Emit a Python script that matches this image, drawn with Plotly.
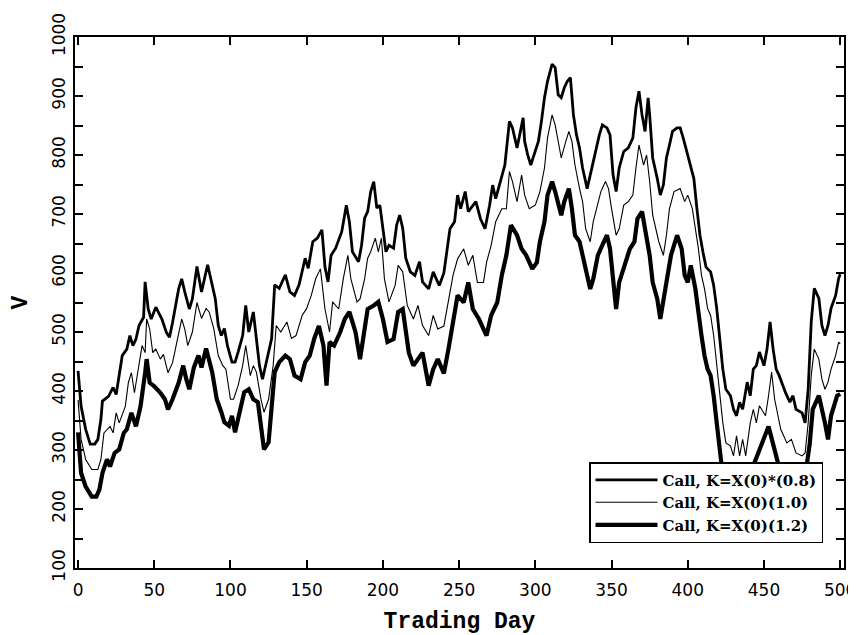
import plotly.graph_objects as go

# ---- data (trading day, value V) ----
days_08 = [0, 2, 5, 8, 11, 13, 15, 16, 20, 23, 25, 27, 29, 32, 34, 36, 38, 40, 43, 44, 46, 48, 51, 55, 58, 60, 62, 66, 68, 70,
           73, 75, 78, 81, 85, 87, 90, 92, 94, 96, 98, 101, 103, 105, 108, 110, 112, 115, 117, 119, 121, 124, 127, 129, 132,
           136, 139, 142, 145, 149, 151, 154, 157, 160, 162, 164, 166, 169, 173, 176, 178, 180, 184, 186, 188, 190, 192, 194,
           196, 198, 200, 202, 204, 207, 209, 211, 213, 215, 218, 221, 224, 226, 230, 233, 235, 237, 240, 242, 244, 247, 249,
           251, 254, 256, 259, 261, 264, 267, 270, 272, 274, 278, 280, 283, 285, 288, 290, 292, 293, 295, 297, 300, 302, 304,
           306, 308, 311, 313, 315, 317, 319, 321, 323, 325, 327, 329, 331, 334, 336, 338, 340, 342, 344, 347, 349, 351, 353,
           355, 358, 361, 364, 366, 368, 370, 372, 374, 375, 377, 380, 382, 384, 386, 388, 390, 393, 395, 397, 400, 404, 406,
           408, 410, 412, 415, 417, 419, 421, 423, 425, 428, 430, 432, 434, 436, 439, 441, 443, 445, 447, 450, 452, 454, 456,
           458, 460, 464, 467, 469, 471, 475, 477, 479, 481, 483, 486, 488, 490, 492, 494, 497, 499, 500]
v_08 = [434, 374, 335, 310, 310, 318, 352, 383, 391, 406, 394, 431, 460, 471, 494, 477, 488, 511, 525, 585, 539, 522, 542, 522,
        499, 491, 516, 573, 590, 568, 539, 556, 611, 568, 614, 591, 557, 511, 494, 506, 477, 449, 449, 466, 494, 545, 500, 534,
        489, 443, 420, 454, 489, 580, 574, 597, 568, 562, 580, 625, 608, 653, 659, 673, 610, 585, 630, 642, 670, 715, 687, 636,
        619, 647, 693, 704, 738, 755, 710, 715, 670, 636, 647, 642, 681, 698, 676, 625, 602, 596, 619, 585, 573, 602, 590, 579,
        600, 641, 675, 687, 732, 709, 738, 704, 715, 721, 692, 675, 715, 749, 726, 766, 783, 857, 846, 812, 840, 863, 823, 800,
        783, 806, 823, 857, 897, 925, 954, 948, 902, 897, 914, 925, 931, 868, 834, 812, 778, 743, 766, 789, 812, 834, 851, 846,
        834, 766, 738, 778, 806, 812, 829, 880, 908, 868, 840, 897, 868, 795, 760, 732, 749, 795, 817, 840, 846, 846, 829, 800,
        760, 709, 664, 635, 610, 602, 579, 540, 483, 437, 403, 392, 369, 358, 381, 369, 415, 392, 437, 443, 466, 443, 471, 517,
        471, 437, 426, 398, 381, 392, 369, 363, 346, 403, 517, 574, 557, 511, 494, 511, 540, 562, 591, 598]

days_10 = [0, 2, 5, 9, 13, 15, 17, 21, 23, 25, 27, 31, 33, 35, 37, 39, 42, 44, 45, 47, 49, 51, 54, 56, 59, 62, 64, 68, 70, 72,
           75, 78, 81, 84, 86, 89, 92, 95, 97, 100, 102, 105, 108, 110, 113, 115, 117, 120, 122, 125, 128, 130, 133, 137, 140,
           143, 147, 150, 153, 156, 159, 161, 162, 165, 167, 171, 174, 177, 179, 183, 185, 188, 190, 192, 195, 197, 199, 201,
           204, 208, 210, 213, 216, 220, 223, 226, 230, 233, 236, 240, 243, 246, 249, 253, 256, 259, 262, 266, 268, 271, 274,
           278, 281, 283, 285, 288, 291, 293, 296, 300, 303, 306, 308, 311, 313, 315, 317, 320, 322, 324, 326, 329, 331, 333,
           336, 338, 340, 343, 346, 348, 350, 353, 355, 358, 361, 364, 366, 368, 371, 373, 375, 377, 381, 384, 386, 388, 391,
           395, 398, 400, 403, 407, 409, 411, 413, 415, 417, 419, 421, 423, 425, 428, 430, 432, 434, 436, 438, 441, 443, 445,
           447, 451, 453, 455, 457, 459, 461, 465, 468, 471, 475, 477, 479, 481, 483, 486, 488, 490, 492, 494, 497, 499, 500]
v_10 = [385, 318, 284, 267, 267, 284, 329, 340, 329, 363, 346, 374, 414, 431, 397, 431, 477, 465, 522, 505, 465, 471, 454, 462,
        431, 448, 471, 522, 505, 477, 500, 550, 523, 540, 534, 506, 460, 443, 437, 386, 386, 409, 443, 477, 426, 443, 432, 386,
        364, 386, 443, 511, 500, 517, 489, 494, 528, 540, 562, 591, 607, 557, 539, 500, 551, 539, 590, 630, 590, 551, 556, 590,
        625, 636, 659, 636, 659, 590, 551, 579, 613, 602, 545, 522, 545, 511, 494, 528, 505, 510, 550, 596, 624, 641, 613, 630,
        584, 584, 618, 647, 687, 709, 709, 772, 755, 721, 766, 732, 709, 715, 738, 778, 829, 868, 851, 823, 795, 823, 840, 823,
        783, 743, 721, 675, 653, 687, 709, 738, 755, 743, 709, 664, 675, 715, 721, 732, 778, 817, 783, 800, 755, 698, 653, 630,
        664, 709, 738, 743, 721, 732, 709, 641, 596, 573, 540, 528, 494, 443, 392, 346, 312, 307, 290, 324, 290, 318, 290, 346,
        369, 346, 375, 358, 392, 432, 386, 358, 335, 312, 318, 295, 290, 295, 346, 426, 471, 454, 420, 403, 415, 437, 460, 483,
        480]

days_12 = [0, 2, 5, 9, 12, 14, 16, 19, 21, 24, 27, 30, 32, 35, 38, 41, 44, 45, 47, 50, 54, 57, 59, 62, 66, 69, 71, 73, 76, 79,
           81, 84, 88, 91, 94, 96, 99, 101, 103, 106, 109, 112, 115, 118, 120, 122, 125, 127, 129, 132, 136, 139, 142, 146, 149,
           152, 155, 158, 161, 163, 165, 168, 172, 175, 178, 182, 185, 187, 190, 194, 197, 200, 203, 207, 210, 213, 217, 220,
           223, 226, 230, 233, 236, 240, 243, 246, 249, 253, 256, 259, 263, 266, 268, 271, 275, 278, 281, 284, 288, 291, 294,
           298, 301, 303, 306, 308, 311, 313, 315, 317, 319, 322, 324, 326, 329, 332, 336, 338, 341, 345, 347, 349, 351, 353,
           355, 359, 362, 365, 367, 370, 372, 375, 377, 380, 382, 384, 386, 389, 393, 396, 398, 400, 402, 405, 407, 409, 411,
           413, 415, 417, 419, 421, 423, 426, 429, 432, 435, 438, 441, 444, 447, 450, 453, 456, 459, 462, 466, 470, 474, 477,
           480, 482, 486, 490, 492, 494, 498, 500]
v_12 = [330, 261, 238, 221, 221, 233, 261, 284, 272, 295, 301, 329, 335, 363, 340, 374, 431, 454, 414, 408, 397, 386, 369, 386,
        414, 443, 420, 403, 440, 460, 440, 472, 432, 386, 364, 347, 341, 358, 330, 364, 398, 403, 386, 381, 341, 301, 313, 375,
        432, 449, 460, 454, 426, 420, 449, 460, 489, 510, 477, 409, 483, 477, 500, 522, 534, 500, 454, 488, 539, 545, 551, 522,
        483, 488, 534, 539, 465, 443, 454, 465, 409, 437, 454, 430, 471, 522, 562, 550, 584, 539, 522, 505, 494, 528, 550, 596,
        630, 681, 664, 641, 630, 607, 618, 653, 687, 732, 755, 738, 721, 698, 721, 743, 709, 664, 653, 618, 573, 590, 630, 653,
        664, 641, 596, 539, 584, 618, 641, 653, 692, 704, 675, 630, 584, 556, 522, 550, 584, 630, 664, 641, 596, 584, 613, 573,
        528, 494, 460, 437, 426, 392, 346, 301, 256, 240, 225, 245, 230, 250, 265, 280, 300, 320, 340, 310, 280, 260, 250, 260,
        245, 255, 310, 369, 392, 346, 318, 358, 392, 395]

legend_names = ["Call, K=X(0)*(0.8)", "Call, K=X(0)(1.0)", "Call, K=X(0)(1.2)"]
x_ticks = [0, 50, 100, 150, 200, 250, 300, 350, 400, 450, 500]
y_ticks = [100, 200, 300, 400, 500, 600, 700, 800, 900, 1000]

fig = go.Figure()
fig.add_trace(go.Scatter(x=days_08, y=v_08, mode="lines", name=legend_names[0],
                         line=dict(color="black", width=2.8)))
fig.add_trace(go.Scatter(x=days_10, y=v_10, mode="lines", name=legend_names[1],
                         line=dict(color="black", width=1.1)))
fig.add_trace(go.Scatter(x=days_12, y=v_12, mode="lines", name=legend_names[2],
                         line=dict(color="black", width=4.2)))

tick_font = dict(family="DejaVu Sans", size=17, color="black")
title_font = dict(family="Liberation Mono", size=23, color="black", weight="bold")

fig.update_layout(
    width=856, height=635,
    margin=dict(l=67, r=20, t=29, b=75),
    paper_bgcolor="white", plot_bgcolor="white",
    showlegend=True,
    legend=dict(x=0.9727, y=0.047, xanchor="right", yanchor="bottom",
                bgcolor="white", bordercolor="black", borderwidth=1.5,
                font=dict(family="DejaVu Serif", size=15, color="black", weight="bold"),
                itemwidth=62, tracegroupgap=0),
    xaxis=dict(range=[-2, 502.5], tickvals=x_ticks, ticks="inside", ticklen=8, tickwidth=1.5,
               tickcolor="black", showline=True, linecolor="black", linewidth=2, mirror="ticks",
               showgrid=False, zeroline=False, tickfont=tick_font, ticklabelstandoff=6, automargin=False,
               title=dict(text="Trading Day", font=title_font, standoff=12)),
    yaxis=dict(range=[100, 1000], tickvals=y_ticks, ticks="inside", ticklen=8, tickwidth=1.5,
               tickcolor="black", showline=True, linecolor="black", linewidth=2, mirror="ticks",
               showgrid=False, zeroline=False, tickfont=tick_font, tickangle=-90, ticklabelstandoff=1,
               automargin=False,
               minor=dict(dtick=50, ticks="inside", ticklen=8, tickwidth=1.5, tickcolor="black", showgrid=False),
               title=dict(text="V", font=title_font, standoff=18)),
)

fig.write_html("out.html")
